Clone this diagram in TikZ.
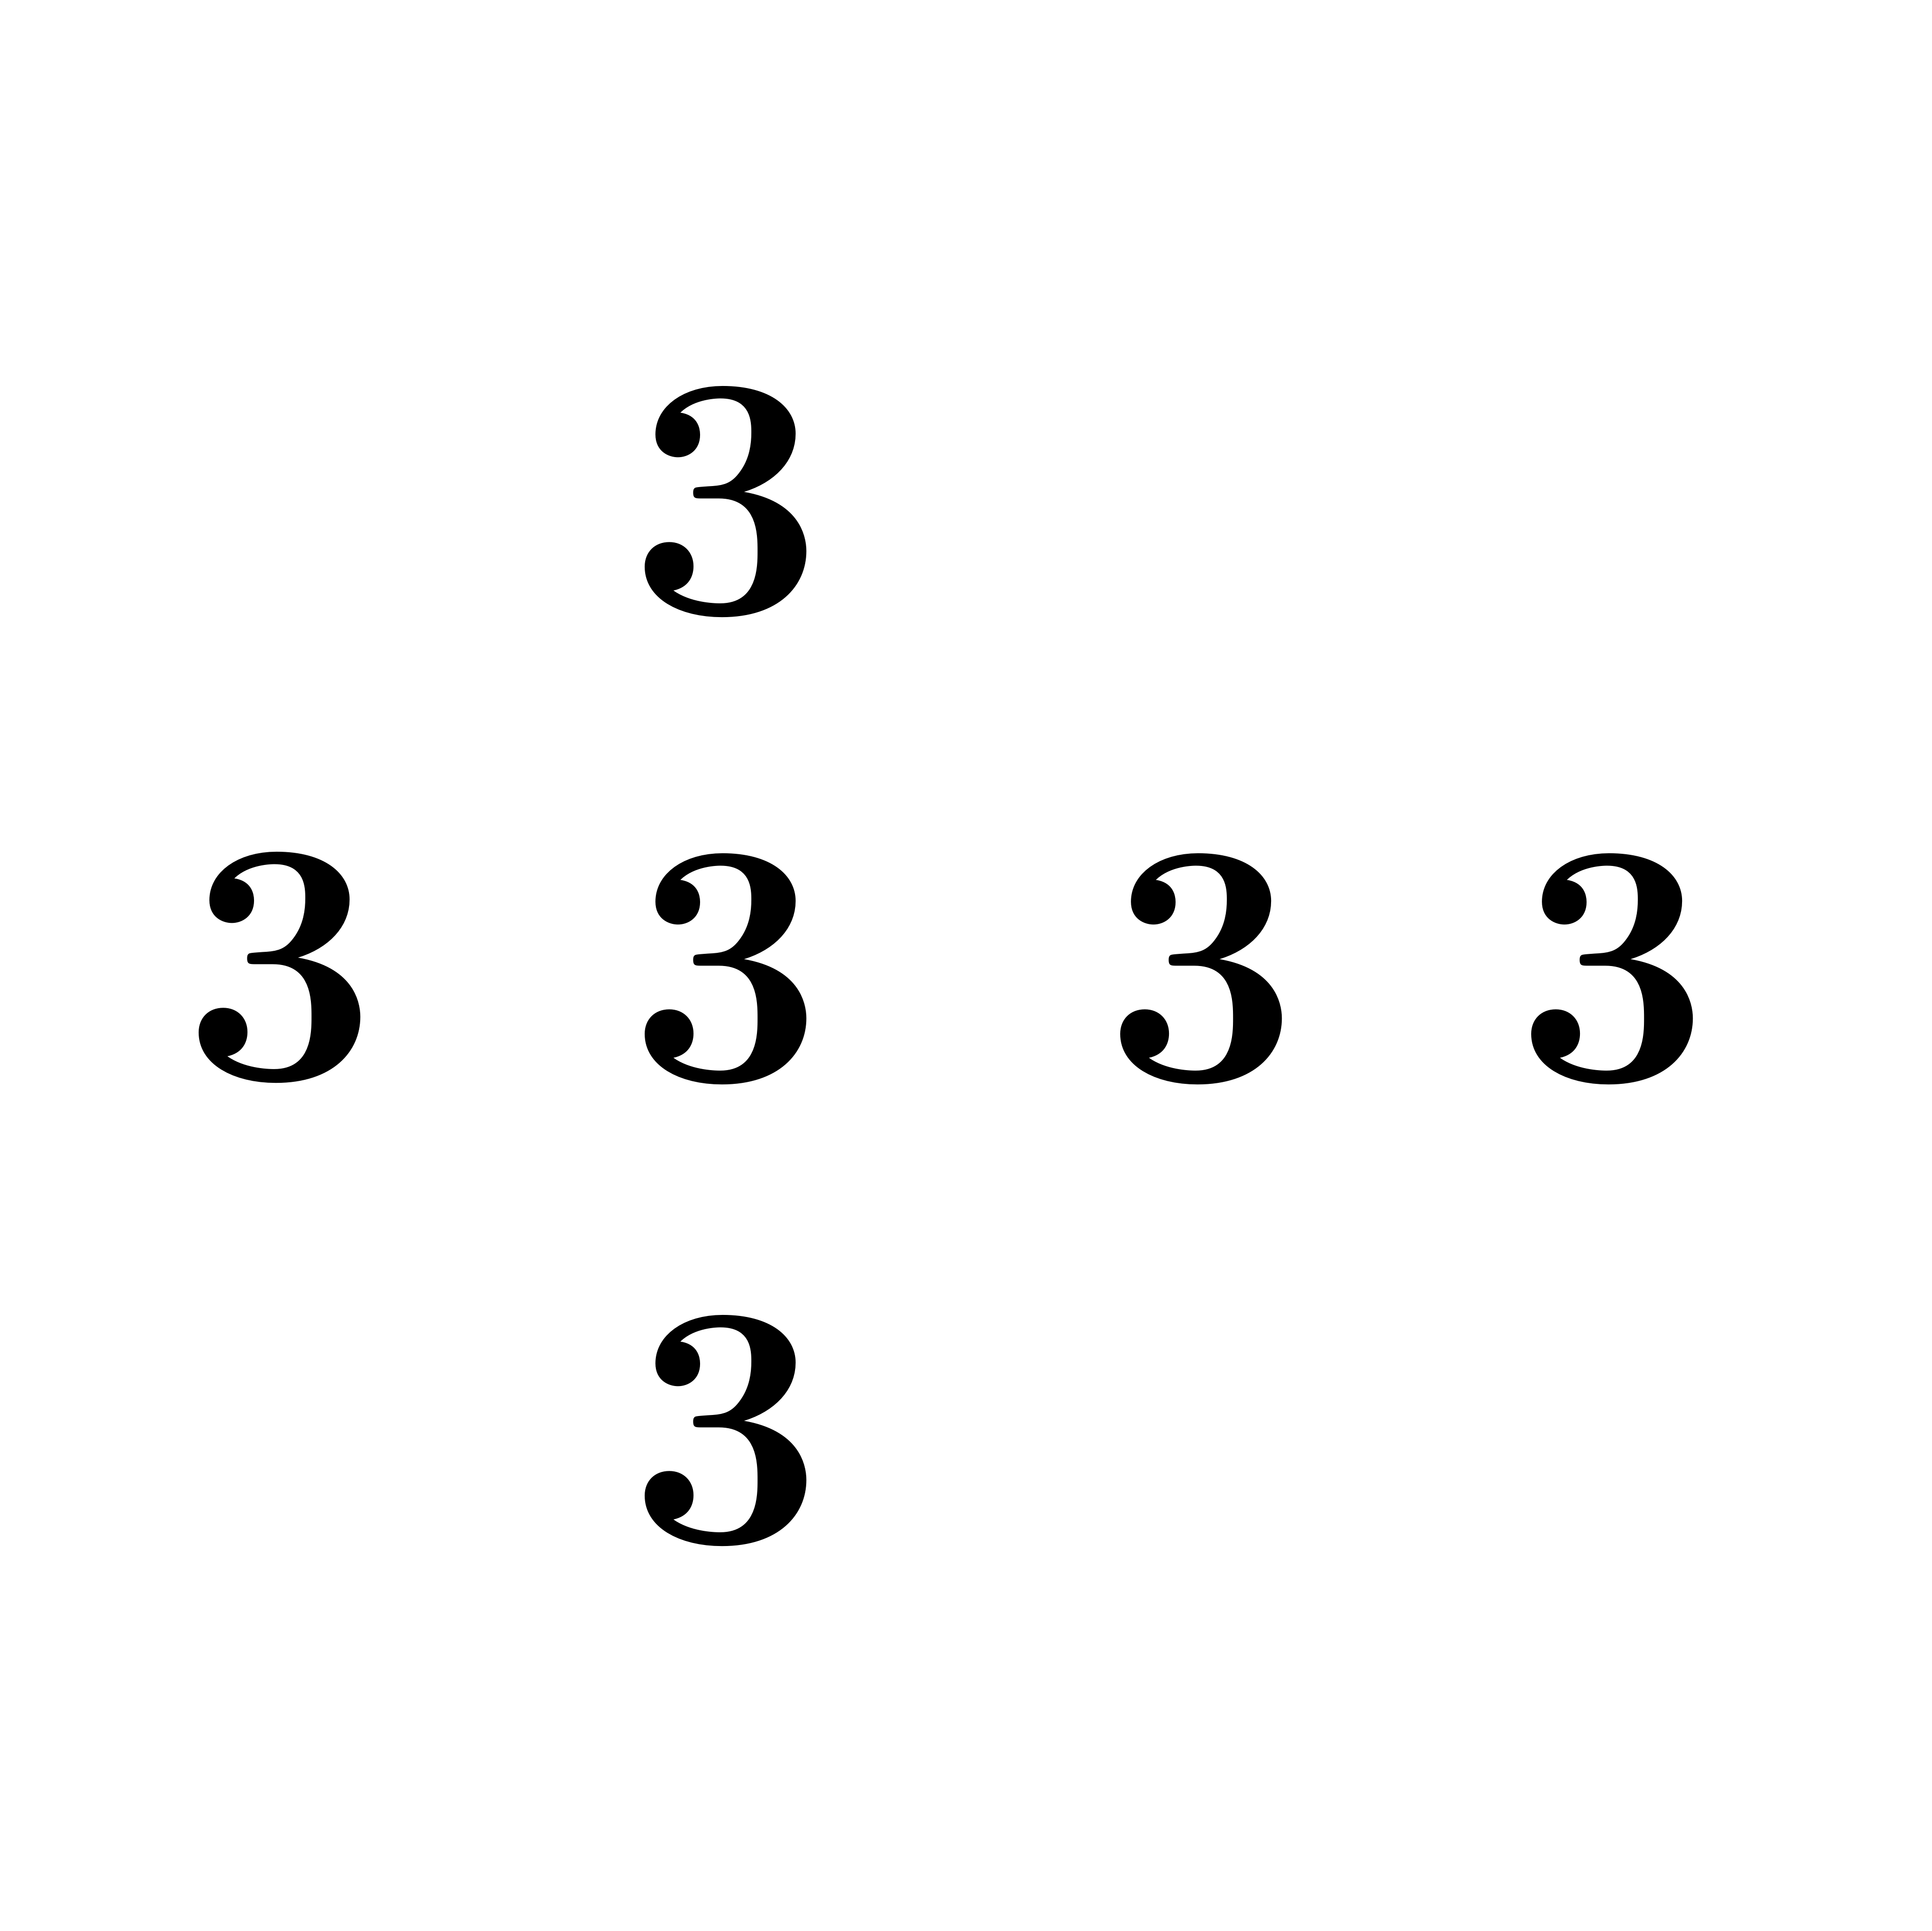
\documentclass[tikz,border=0pt]{standalone}
\begin{document}
\begin{tikzpicture}[every node/.style={inner sep=0pt,font=\fontsize{51}{60}\selectfont\bfseries}]
  \useasboundingbox (0,0) rectangle (10,10);
  % Крест из троек
  \node (t) at (3.76,7.40) {3};
  \node (l) at (1.45,4.99) {3};
  \node (c) at (3.76,4.98) {3};
  \node (r) at (6.22,4.98) {3};
  \node (rr) at (8.35,4.98) {3};
  \node (b) at (3.76,2.59) {3};
\end{tikzpicture}
\end{document}
